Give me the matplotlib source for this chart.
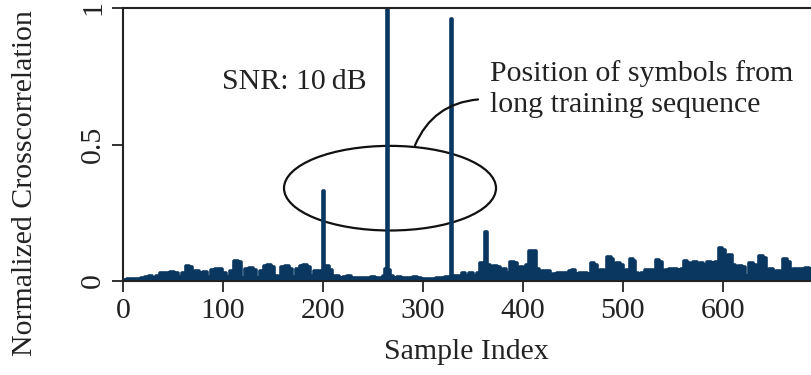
import matplotlib.pyplot as plt
from matplotlib.patches import Ellipse

# sample index and normalized crosscorrelation
sample_idx = [
    0, 8, 15, 20, 24, 27, 31, 35, 39, 44, 49, 53, 57, 61, 64, 67, 70, 74, 78, 82,
    86, 90, 93, 97, 101, 105, 109, 113, 116, 120, 124, 128, 131, 135, 139, 142,
    146, 149, 153, 156, 160, 164, 167, 171, 175, 178, 182, 185, 189, 193, 196,
    199, 200, 201, 204, 207, 210, 214, 218, 222, 226, 230, 234, 238, 242, 246,
    250, 254, 258, 261, 263, 264, 266, 268, 272, 276, 280, 284, 288, 292, 296,
    300, 305, 310, 315, 320, 324, 327, 328, 329, 333, 337, 340, 344, 348, 352,
    356, 358, 361, 363, 365, 368, 372, 375, 378, 381, 385, 389, 392, 395, 398,
    401, 404, 407, 411, 414, 417, 420, 423, 425, 428, 432, 436, 440, 444, 447,
    450, 454, 458, 462, 466, 469, 472, 475, 479, 482, 486, 489, 491, 495, 498,
    501, 505, 508, 511, 513, 516, 520, 524, 528, 531, 534, 537, 540, 544, 548,
    552, 556, 559, 562, 565, 568, 572, 575, 578, 582, 586, 590, 594, 597, 600,
    603, 607, 610, 613, 617, 620, 624, 628, 631, 634, 638, 641, 644, 648, 651,
    655, 658, 662, 665, 668, 672, 676, 680, 684, 688, 692, 696, 700,
]
xcorr = [
    0.004, 0.006, 0.008, 0.010, 0.015, 0.020, 0.012, 0.020, 0.030, 0.028, 0.032,
    0.030, 0.015, 0.030, 0.055, 0.050, 0.020, 0.035, 0.030, 0.032, 0.015, 0.040,
    0.045, 0.045, 0.030, 0.015, 0.035, 0.075, 0.070, 0.012, 0.045, 0.048, 0.040,
    0.012, 0.035, 0.055, 0.058, 0.050, 0.020, 0.012, 0.050, 0.055, 0.045, 0.015,
    0.045, 0.055, 0.058, 0.050, 0.020, 0.038, 0.035, 0.012, 0.330, 0.050, 0.055,
    0.040, 0.020, 0.018, 0.010, 0.015, 0.018, 0.012, 0.010, 0.010, 0.012, 0.010,
    0.015, 0.010, 0.012, 0.020, 0.045, 1.000, 0.040, 0.020, 0.012, 0.015, 0.010,
    0.012, 0.010, 0.015, 0.010, 0.008, 0.006, 0.008, 0.010, 0.012, 0.015, 0.012,
    0.960, 0.020, 0.020, 0.018, 0.030, 0.020, 0.030, 0.020, 0.030, 0.065, 0.060,
    0.180, 0.060, 0.050, 0.055, 0.050, 0.035, 0.045, 0.030, 0.070, 0.065, 0.025,
    0.050, 0.040, 0.060, 0.110, 0.110, 0.045, 0.030, 0.038, 0.020, 0.035, 0.015,
    0.025, 0.030, 0.028, 0.030, 0.035, 0.042, 0.025, 0.028, 0.030, 0.025, 0.065,
    0.060, 0.025, 0.040, 0.035, 0.088, 0.080, 0.045, 0.065, 0.060, 0.025, 0.040,
    0.080, 0.075, 0.028, 0.015, 0.030, 0.040, 0.042, 0.040, 0.078, 0.070, 0.035,
    0.040, 0.045, 0.045, 0.040, 0.045, 0.072, 0.065, 0.040, 0.070, 0.055, 0.065,
    0.060, 0.068, 0.065, 0.070, 0.120, 0.115, 0.050, 0.095, 0.060, 0.035, 0.055,
    0.050, 0.020, 0.065, 0.060, 0.030, 0.090, 0.085, 0.040, 0.045, 0.030, 0.035,
    0.030, 0.080, 0.070, 0.035, 0.045, 0.045, 0.045, 0.048, 0.045, 0.040, 0.045,
    0.040,
]
x_ticks = [0, 100, 200, 300, 400, 500, 600]
y_ticks = [0, 0.5, 1]
y_ticklabels = ["0", "0.5", "1"]

plt.rcParams["font.family"] = "Liberation Serif"
plt.rcParams["font.size"] = 21.5
navy = "#0a3760"
ink = "#222222"

fig = plt.figure(figsize=(8.11, 3.75), dpi=100)
# axes runs past the right edge like the cropped original
ax = fig.add_axes([123 / 811, 94 / 375, 700 / 811, 273 / 375])

ax.fill_between(sample_idx, xcorr, 0, step="mid", color=navy, lw=0)
ax.plot(sample_idx, xcorr, color=navy, lw=2.6, drawstyle="steps-mid",
        solid_joinstyle="round", solid_capstyle="round")

ax.set_xlim(0, 700)
ax.set_ylim(0, 1)
ax.set_xticks(x_ticks)
ax.set_yticks(y_ticks)
ax.set_yticklabels(y_ticklabels, rotation=90, va="center")
ax.tick_params(direction="out", length=8, width=1.3, colors=ink,
               labelcolor=ink, pad=4)
for sp in ax.spines.values():
    sp.set_linewidth(1.5)
    sp.set_color(ink)

ax.set_xlabel("Sample Index", color=ink, va="center")
ax.xaxis.set_label_coords(343 / 700, -71 / 273)
ax.set_ylabel("Normalized Crosscorrelation", color=ink, va="center")
ax.yaxis.set_label_coords(-98 / 700, 98 / 273)

ax.text(99, 0.73, "SNR: 10\u2009dB", ha="left", va="center", color=ink)
ax.text(367, 0.703, "Position of symbols from\nlong training sequence",
        ha="left", va="center", color=ink, linespacing=1.25)

ax.add_patch(Ellipse((267, 0.34), 212, 0.31, fill=False, ec="#111111", lw=1.6))
ax.annotate("", xy=(292, 0.497), xytext=(355, 0.665),
            arrowprops=dict(arrowstyle="-", color="#111111", lw=1.6,
                            connectionstyle="arc3,rad=0.3",
                            shrinkA=0, shrinkB=0))

fig.savefig("out.png", dpi=100)
plt.close(fig)
